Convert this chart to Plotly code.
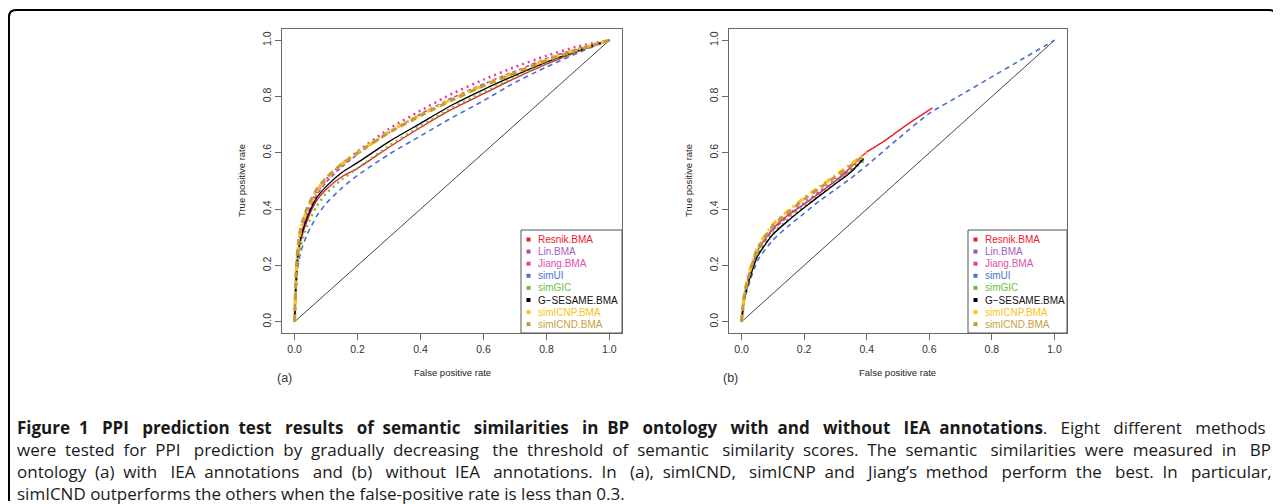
import plotly.graph_objects as go

# The page body has an 8px default margin, so the figure is drawn 8px smaller
# and every pixel position below (measured on the 1281x504 screenshot) is shifted by OFF.
OFF = 8
W, H = 1281 - OFF, 504 - OFF

# ---------------- data ----------------
methods = ["Resnik.BMA", "Lin.BMA", "Jiang.BMA", "simUI", "simGIC",
           "G\u2212SESAME.BMA", "simICNP.BMA", "simICND.BMA"]
colors = ["#E8202A", "#9B55B5", "#E0409E", "#4A6FD2", "#62BE3C",
          "#000000", "#FFC11A", "#C29A3E"]
legend_text_colors = ["#F0202A", "#A060C0", "#E050A8", "#5070D0", "#6CC040",
                      "#111111", "#FFC020", "#C8A040"]

# panel (a): with IEA annotations
fpr_a = [0, 0.005, 0.01, 0.02, 0.04, 0.07, 0.1, 0.15, 0.2, 0.3, 0.4, 0.5, 0.6, 0.7, 0.8, 0.9, 1.0]
tpr_a_resnik = [0, 0.14, 0.22, 0.29, 0.36, 0.43, 0.47, 0.515, 0.545, 0.62, 0.69, 0.755, 0.81, 0.865, 0.915, 0.96, 1.0]
tpr_a_lin = [0, 0.15, 0.23, 0.31, 0.38, 0.45, 0.495, 0.55, 0.595, 0.672, 0.738, 0.795, 0.845, 0.89, 0.935, 0.97, 1.0]
tpr_a_jiang = [0, 0.15, 0.24, 0.32, 0.39, 0.46, 0.505, 0.56, 0.605, 0.685, 0.75, 0.81, 0.86, 0.905, 0.945, 0.978, 1.0]
tpr_a_simui = [0, 0.12, 0.19, 0.25, 0.31, 0.375, 0.42, 0.475, 0.52, 0.595, 0.66, 0.725, 0.785, 0.85, 0.905, 0.955, 1.0]
tpr_a_simgic = [0, 0.13, 0.2, 0.27, 0.34, 0.41, 0.455, 0.505, 0.545, 0.625, 0.695, 0.76, 0.815, 0.868, 0.918, 0.962, 1.0]
tpr_a_gsesame = [0, 0.15, 0.24, 0.3, 0.37, 0.44, 0.48, 0.53, 0.565, 0.64, 0.705, 0.77, 0.825, 0.875, 0.922, 0.963, 1.0]
tpr_a_simicnp = [0, 0.17, 0.25, 0.33, 0.40, 0.465, 0.51, 0.56, 0.6, 0.675, 0.735, 0.79, 0.84, 0.885, 0.93, 0.968, 1.0]
tpr_a_simicnd = [0, 0.18, 0.26, 0.335, 0.405, 0.47, 0.51, 0.56, 0.6, 0.672, 0.732, 0.787, 0.838, 0.883, 0.928, 0.966, 1.0]

# panel (b): without IEA annotations
fpr_b_resnik = [0, 0.005, 0.01, 0.02, 0.05, 0.1, 0.15, 0.2, 0.25, 0.3, 0.35, 0.4, 0.45, 0.5, 0.55, 0.61]
tpr_b_resnik = [0, 0.05, 0.09, 0.14, 0.25, 0.33, 0.38, 0.418, 0.458, 0.5, 0.55, 0.603, 0.637, 0.677, 0.716, 0.76]
fpr_b_simui = [0, 0.01, 0.02, 0.05, 0.1, 0.15, 0.2, 0.25, 0.3, 0.35, 0.4, 0.5, 0.6, 0.7, 0.8, 0.9, 1.0]
tpr_b_simui = [0, 0.08, 0.12, 0.215, 0.29, 0.34, 0.385, 0.43, 0.47, 0.51, 0.555, 0.65, 0.74, 0.805, 0.87, 0.935, 1.0]
fpr_b = [0, 0.005, 0.01, 0.02, 0.05, 0.1, 0.15, 0.2, 0.25, 0.3, 0.35, 0.39]
tpr_b_lin = [0, 0.05, 0.09, 0.14, 0.245, 0.325, 0.375, 0.418, 0.46, 0.5, 0.54, 0.575]
tpr_b_jiang = [0, 0.05, 0.09, 0.145, 0.25, 0.33, 0.38, 0.422, 0.463, 0.503, 0.543, 0.578]
tpr_b_simgic = [0, 0.05, 0.085, 0.135, 0.235, 0.315, 0.365, 0.41, 0.452, 0.493, 0.535, 0.57]
tpr_b_gsesame = [0, 0.05, 0.085, 0.13, 0.23, 0.31, 0.36, 0.405, 0.448, 0.49, 0.532, 0.58]
fpr_b_simicnp = [0, 0.005, 0.01, 0.02, 0.05, 0.1, 0.15, 0.2, 0.25, 0.3, 0.35, 0.4]
tpr_b_simicnp = [0, 0.06, 0.1, 0.155, 0.26, 0.345, 0.395, 0.44, 0.48, 0.52, 0.56, 0.6]
tpr_b_simicnd = [0, 0.06, 0.1, 0.15, 0.255, 0.34, 0.39, 0.435, 0.475, 0.515, 0.555, 0.59]

diag = [0, 1]
ticks = [0, 0.2, 0.4, 0.6, 0.8, 1.0]
tick_labels = ["0.0", "0.2", "0.4", "0.6", "0.8", "1.0"]

caption_title = "Figure 1 PPI prediction test results of semantic similarities in BP ontology with and without IEA annotations"
caption_body = ("Eight different methods were tested for PPI prediction by gradually decreasing the threshold of "
                "semantic similarity scores. The semantic similarities were measured in BP ontology (a) with IEA "
                "annotations and (b) without IEA annotations. In (a), simICND, simICNP and Jiang\u2019s method "
                "perform the best. In particular, simICND outperforms the others when the false-positive rate is "
                "less than 0.3.")

# ---------------- styling ----------------
styles = [
    dict(dash="solid", width=1.4),
    dict(dash="4px,3px", width=1.6),
    dict(dash="2px,4px", width=2.6),
    dict(dash="5px,4px", width=1.6),
    dict(dash="2px,4px", width=2.2),
    dict(dash="solid", width=1.4),
    dict(dash="7px,4px,2px,4px", width=3.2),
    dict(dash="6px,5px", width=3.0),
]

fig = go.Figure()


def px_x(p):
    return (p - OFF) / W


def px_y(p):
    return 1 - (p - OFF) / H


series_a = [(fpr_a, tpr_a_resnik), (fpr_a, tpr_a_lin), (fpr_a, tpr_a_jiang), (fpr_a, tpr_a_simui),
            (fpr_a, tpr_a_simgic), (fpr_a, tpr_a_gsesame), (fpr_a, tpr_a_simicnp), (fpr_a, tpr_a_simicnd)]
series_b = [(fpr_b_resnik, tpr_b_resnik), (fpr_b, tpr_b_lin), (fpr_b, tpr_b_jiang), (fpr_b_simui, tpr_b_simui),
            (fpr_b, tpr_b_simgic), (fpr_b, tpr_b_gsesame), (fpr_b_simicnp, tpr_b_simicnp), (fpr_b, tpr_b_simicnd)]

for axs, series in [(("x", "y"), series_a), (("x2", "y2"), series_b)]:
    fig.add_trace(go.Scatter(x=diag, y=diag, mode="lines", xaxis=axs[0], yaxis=axs[1],
                             line=dict(color="#444444", width=1), showlegend=False, hoverinfo="skip"))
    for i, (xs, ys) in enumerate(series):
        fig.add_trace(go.Scatter(x=xs, y=ys, mode="lines", xaxis=axs[0], yaxis=axs[1], name=methods[i],
                                 line=dict(color=colors[i], width=styles[i]["width"], dash=styles[i]["dash"],
                                           shape="spline", smoothing=0.6),
                                 showlegend=False))

tickfont = dict(family="Liberation Sans, Arial, sans-serif", size=10.5, color="#333333")
axis_common = dict(range=[-0.04, 1.04], showgrid=False, zeroline=False, showline=True, linecolor="#6a6a6a",
                   linewidth=1, mirror=True, ticks="outside", ticklen=6, tickcolor="#6a6a6a",
                   tickvals=ticks, ticktext=tick_labels, tickfont=tickfont, fixedrange=True)

panels = [  # (left, right, top, bottom) in screenshot pixels
    (282, 622, 29, 333),
    (729, 1067, 29, 333),
]
fig.update_layout(
    xaxis=dict(domain=[px_x(panels[0][0]), px_x(panels[0][1])], anchor="y", **axis_common),
    yaxis=dict(domain=[px_y(panels[0][3]), px_y(panels[0][2])], anchor="x", tickangle=-90, **axis_common),
    xaxis2=dict(domain=[px_x(panels[1][0]), px_x(panels[1][1])], anchor="y2", **axis_common),
    yaxis2=dict(domain=[px_y(panels[1][3]), px_y(panels[1][2])], anchor="x2", tickangle=-90, **axis_common),
)

annotations = []
shapes = []
labfont = dict(family="Liberation Sans, Arial, sans-serif", size=9.5, color="#222222")
for pi, (l, r, t, b) in enumerate(panels):
    cx = (l + r) / 2
    cy = (t + b) / 2
    annotations.append(dict(text="False positive rate", x=px_x(cx), y=px_y(372), xref="paper", yref="paper",
                            showarrow=False, font=labfont, xanchor="center", yanchor="middle"))
    annotations.append(dict(text="True positive rate", x=px_x(l - 41), y=px_y(cy), xref="paper", yref="paper",
                            showarrow=False, font=labfont, textangle=-90, xanchor="center", yanchor="middle"))
    annotations.append(dict(text=["(a)", "(b)"][pi], x=px_x(l + 2 if pi == 0 else l + 1.5), y=px_y(378),
                            xref="paper", yref="paper", showarrow=False,
                            font=dict(family="Liberation Sans, Arial, sans-serif", size=12.5, color="#333333"),
                            xanchor="center", yanchor="middle"))
    # legend box
    lx = 521 if pi == 0 else 968
    shapes.append(dict(type="rect", xref="paper", yref="paper", x0=px_x(lx), x1=px_x(r), y0=px_y(b), y1=px_y(230),
                       line=dict(color="#555555", width=1), fillcolor="white", layer="above"))
    for i, m in enumerate(methods):
        yy = 239.5 + 12.1 * i
        sx = lx + 7.5
        shapes.append(dict(type="rect", xref="paper", yref="paper", x0=px_x(sx - 2), x1=px_x(sx + 2),
                           y0=px_y(yy + 2), y1=px_y(yy - 2), line=dict(width=0), fillcolor=colors[i], layer="above"))
        annotations.append(dict(text=m, x=px_x(lx + 14.5), y=px_y(yy), xref="paper", yref="paper", showarrow=False,
                                font=dict(family="Liberation Sans, Arial, sans-serif", size=10,
                                          color=legend_text_colors[i]),
                                xanchor="left", yanchor="middle"))

# ---------------- caption: one multi-line text, justified with extra no-break spaces ----------------
words = [(w, True) for w in caption_title.split()]
words[-1] = ("<b>" + words[-1][0] + "</b>.", None)
words += [(w, False) for w in caption_body.split()]
line_word_counts = [20, 21, 22, 15]          # how the reference breaks the caption into lines
extra_spaces = [32, 25, 31, 0]               # padding to stretch lines 1-3 to the full width
NB = "\u00a0"
lines = []
k = 0
for n, extra in zip(line_word_counts, extra_spaces):
    ws = words[k:k + n]
    k += n
    gaps = max(n - 1, 1)
    parts = []
    for j, (w, bold) in enumerate(ws):
        txt = f"<b>{w}</b>" if bold else w
        parts.append(txt)
        if j < n - 1:
            pad = extra * (j + 1) // gaps - extra * j // gaps
            parts.append(" " + NB * pad)
    lines.append("".join(parts))
caption_text = "<br>".join(lines)
capfont = dict(family="Open Sans, sans-serif", size=17, color="#1a1a1a")
annotations.append(dict(text=caption_text, x=px_x(15), y=px_y(427 + 1.5 * 22.1), xref="paper", yref="paper",
                        showarrow=False, font=capfont, xanchor="left", yanchor="middle", align="left"))

# outer frame with rounded top corners
r = 7
path = (f"M {px_x(9)},{px_y(501)} L {px_x(9)},{px_y(10 + r)} Q {px_x(9)},{px_y(10)} {px_x(9 + r)},{px_y(10)} "
        f"L {px_x(1276 - r)},{px_y(10)} Q {px_x(1276)},{px_y(10)} {px_x(1276)},{px_y(10 + r)} L {px_x(1276)},{px_y(24)}")
shapes.append(dict(type="path", xref="paper", yref="paper", path=path, line=dict(color="#000000", width=2)))

fig.update_layout(width=W, height=H, margin=dict(l=0, r=0, t=0, b=0), paper_bgcolor="white",
                  plot_bgcolor="white", showlegend=False, annotations=annotations, shapes=shapes)

fig.write_html("out.html", config={"displayModeBar": False})
